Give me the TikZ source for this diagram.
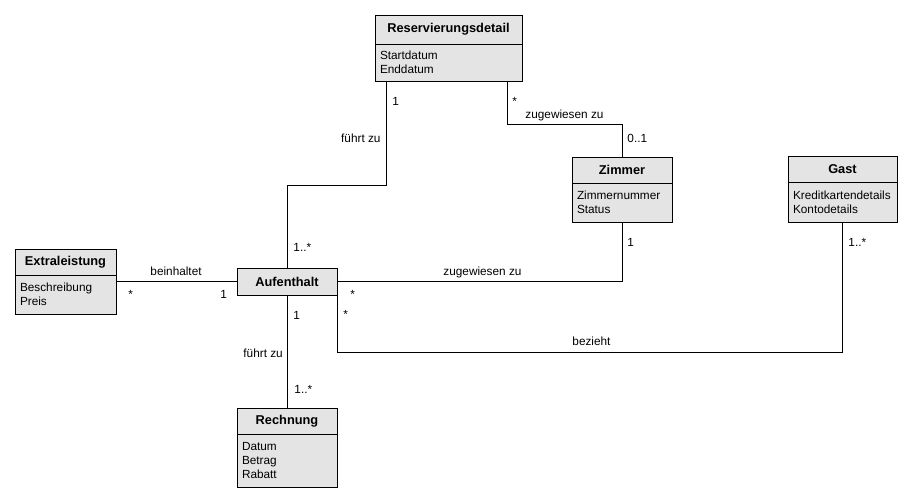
\documentclass[tikz,border=0pt]{standalone}
\usepackage{fontspec}
\setmainfont{Liberation Sans}
\usepackage{tikz}
\usetikzlibrary{positioning, calc}
\usepackage{xcolor}
\definecolor{boxgray}{HTML}{E4E4E4}
\newcommand\umlhead{\fontsize{12.8}{14}\selectfont\bfseries}
\newcommand\umlattr{\fontsize{11.8}{14.3}\selectfont}

\begin{document}
\begin{tikzpicture}[
    x=1pt, y=-1pt,
    line width=0.9pt,
    classhead/.style={
      draw, fill=boxgray, anchor=north west, outer sep=0pt, inner sep=0pt,
      minimum width=#1, minimum height=27pt, font=\umlhead
    },
    classbody/.style={
      draw, fill=boxgray, anchor=north west, outer sep=0pt, inner xsep=5pt,
      inner ysep=0pt, text width=#1, minimum height=38pt, align=left,
      font=\umlattr
    },
    lbl/.style={font=\umlattr, inner sep=0pt, anchor=base west},
    assoc/.style={draw, line width=0.9pt},
  ]
    \useasboundingbox (0,0) rectangle (913,503);

    % --- Classes ---
    \node[classhead=147pt, minimum height=29pt] (resH) at (375,15) {Reservierungsdetail};
    \node[classbody=137pt, minimum height=37pt] (resB) at (resH.south west) {Startdatum\\Enddatum};

    \node[classhead=100pt, minimum height=26pt] (zimH) at (572,157) {Zimmer};
    \node[classbody=90pt, minimum height=39pt] (zimB) at (zimH.south west) {Zimmernummer\\Status};

    \node[classhead=109pt, minimum height=26pt] (gastH) at (788,156) {Gast};
    \node[classbody=99pt, minimum height=40pt] (gastB) at (gastH.south west) {Kreditkartendetails\\Kontodetails};

    \node[classhead=101pt, minimum height=26pt] (extH) at (15,249) {Extraleistung};
    \node[classbody=91pt, minimum height=39pt] (extB) at (extH.south west) {Beschreibung\\Preis};

    \node[classhead=100pt] (auf) at (237,268) {Aufenthalt};

    \node[classhead=100pt, minimum height=26pt] (rechH) at (237,408) {Rechnung};
    \node[classbody=90pt, minimum height=53pt] (rechB) at (rechH.south west) {Datum\\Betrag\\Rabatt};

    % --- Bends ---
    \coordinate (k1) at (386,185);
    \coordinate (k2) at (507,124);
    \coordinate (k3) at (337,352);

    % --- Associations ---
    \draw[assoc] (resB.south -| k1) -- (k1) -| (auf.north);
    \draw[assoc] (resB.south -| k2) -- (k2) -| (zimH.north);
    \draw[assoc] (auf.east) -| (zimB.south);
    \draw[assoc] (auf.south east) -- (k3) -| (gastB.south);
    \draw[assoc] (auf.west) -- (auf.west -| extB.east);
    \draw[assoc] (auf.south) -- (rechH.north);

    % --- Labels ---
    \node[lbl] (m1) at (392,105) {1};
    \node[lbl, anchor=base east] (n1) at (381,142) {führt zu};
    \node[lbl] (m2) at (293,251) {1..*};

    \node[lbl] (m3) at (512,105) {*};
    \node[lbl] (n2) at (525,118) {zugewiesen zu};
    \node[lbl] (m4) at (627,142) {0..1};

    \node[lbl] (n3) at (443,275) {zugewiesen zu};
    \node[lbl] (m5) at (350,298) {*};
    \node[lbl] (m6) at (627,246) {1};

    \node[lbl] (m7) at (343,318) {*};
    \node[lbl] (n4) at (572,345) {bezieht};
    \node[lbl] (m8) at (848,246) {1..*};

    \node[lbl] (n5) at (150,275) {beinhaltet};
    \node[lbl] (m9) at (128,298) {*};
    \node[lbl] (m10) at (220,298) {1};

    \node[lbl] (m11) at (293,319) {1};
    \node[lbl] (n6) at (243,357) {führt zu};
    \node[lbl] (m12) at (294,393) {1..*};
  \end{tikzpicture}
\end{document}
